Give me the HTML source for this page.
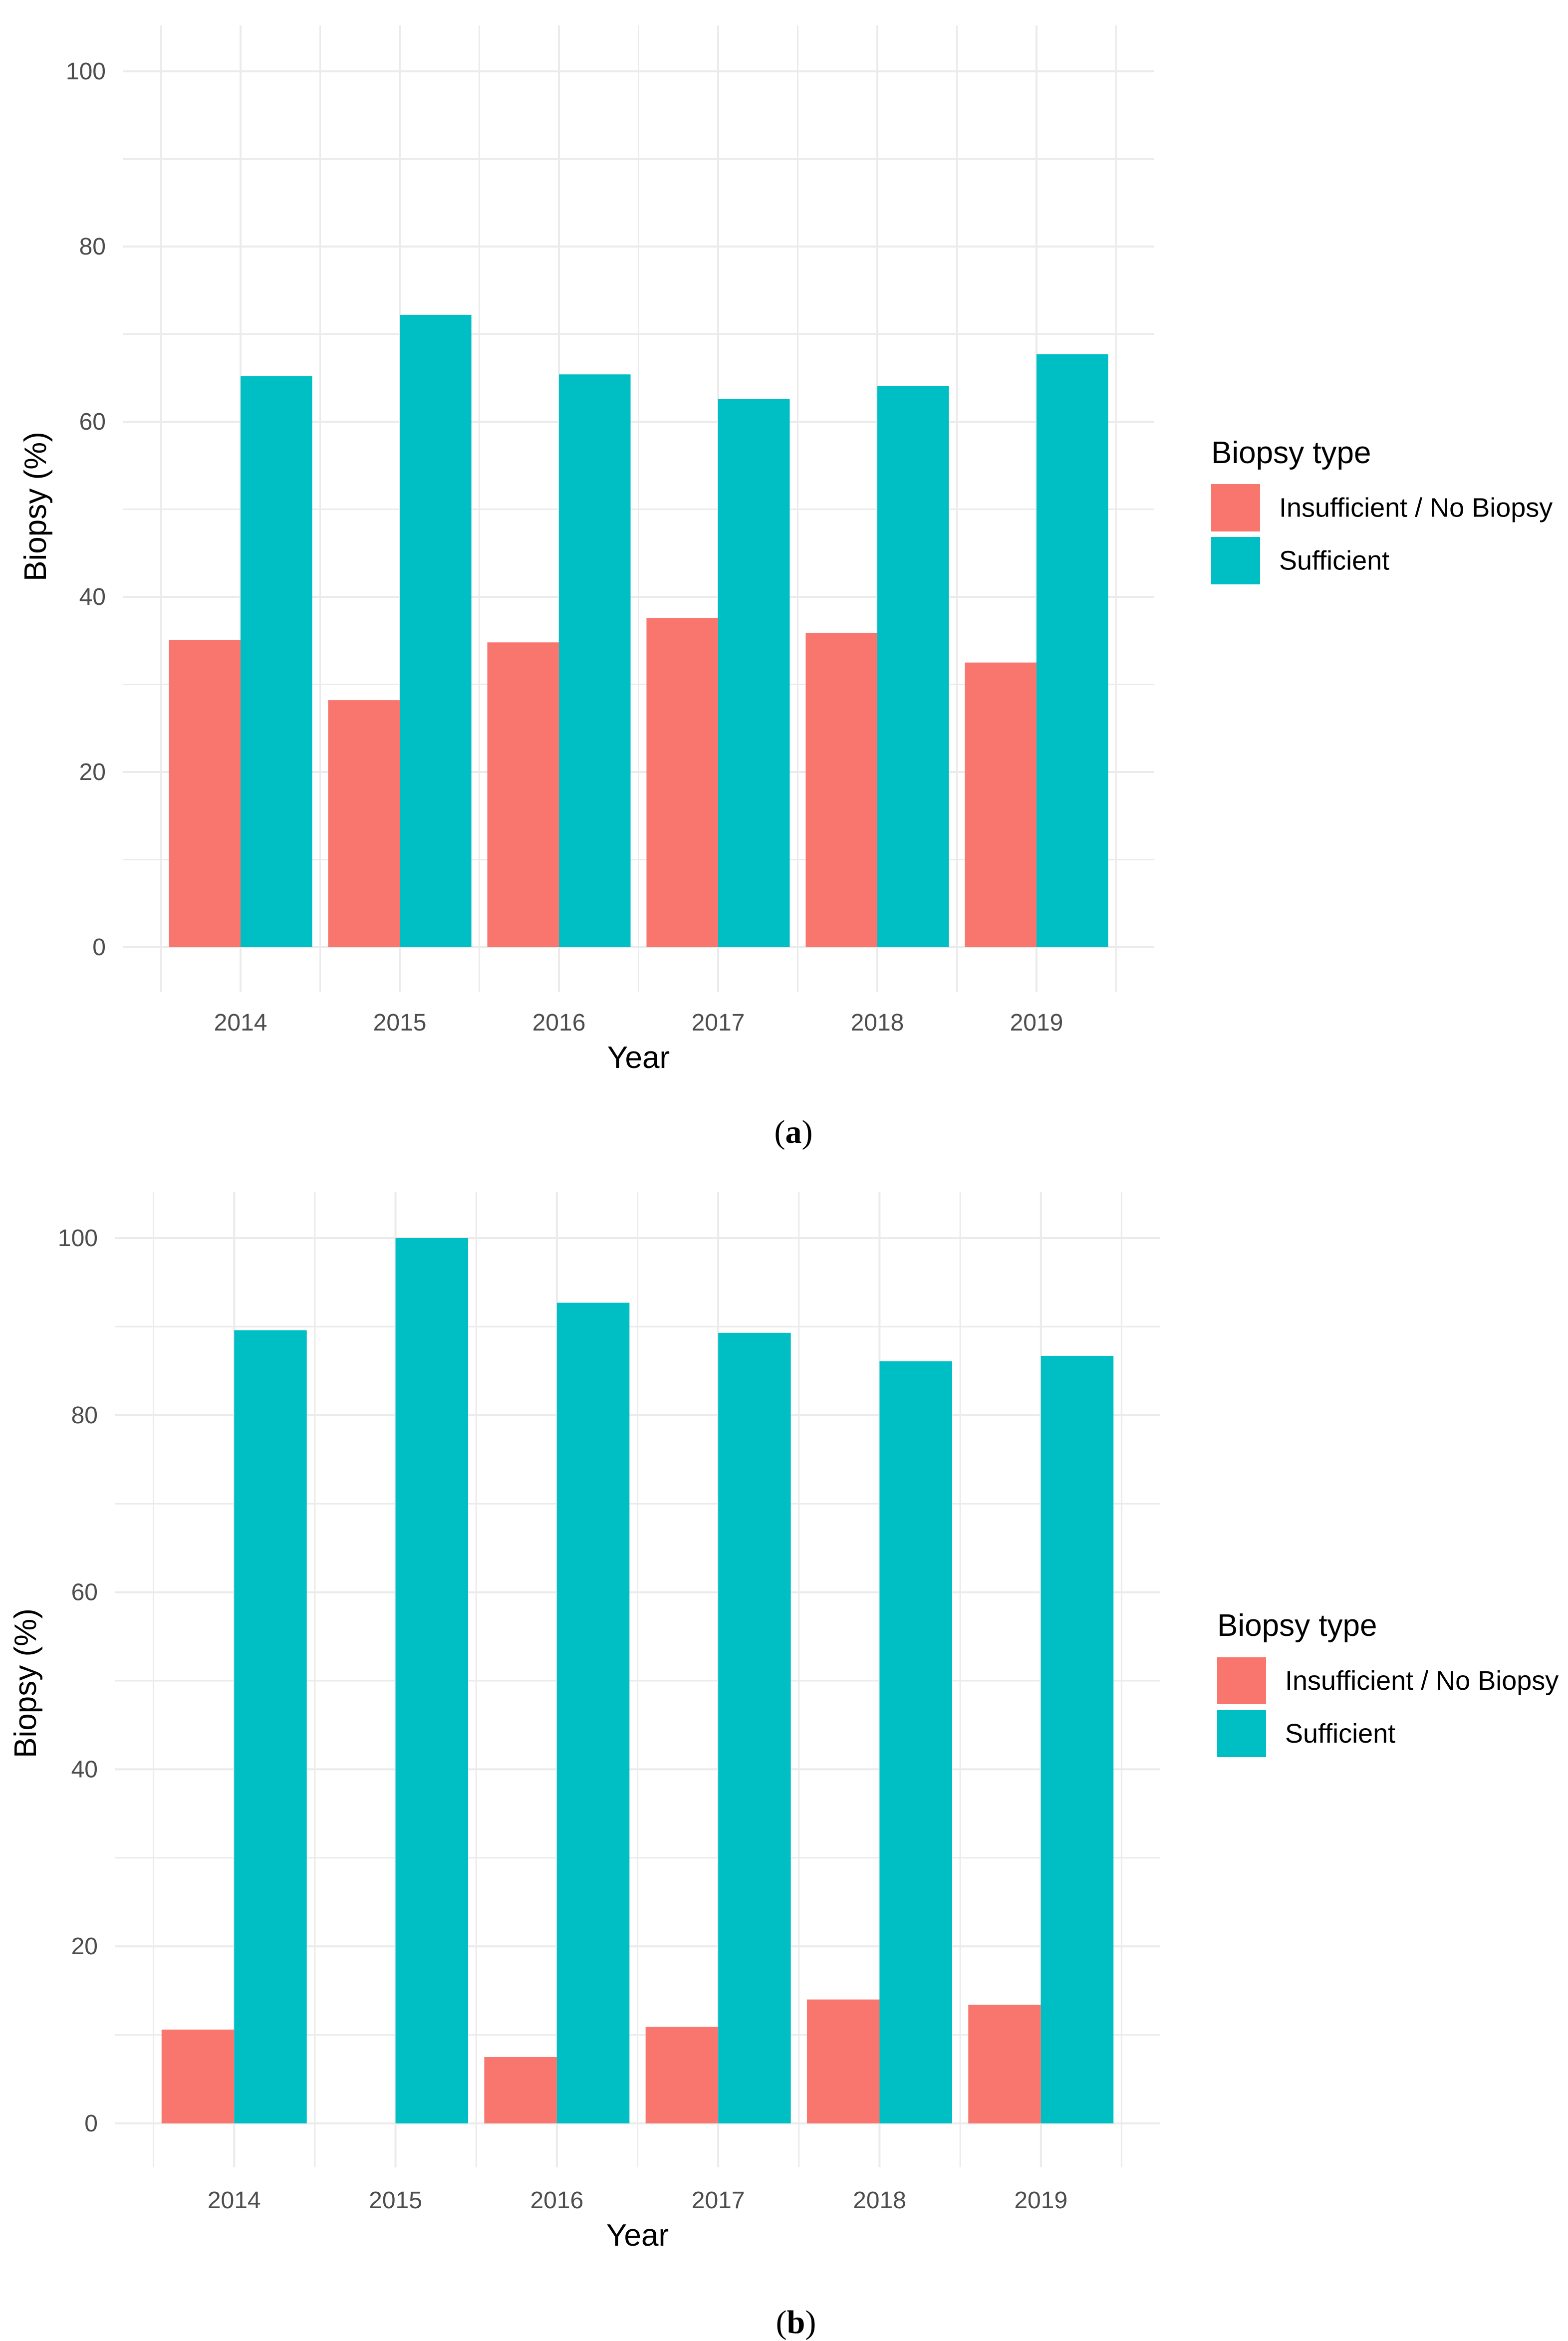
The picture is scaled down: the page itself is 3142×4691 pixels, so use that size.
<!DOCTYPE html>
<html><head><meta charset="utf-8">
<style>html,body{margin:0;padding:0;background:#fff}svg{display:block}</style></head>
<body>
<svg id="chart" width="3142" height="4691" viewBox="0 0 3142 4691" xmlns="http://www.w3.org/2000/svg" font-family="'Liberation Sans Narrow','Liberation Sans',sans-serif">
<rect width="3142" height="4691" fill="#fff"/>
<g id="pa"></g>
<g id="pb"></g>
<text x="1590" y="2290" font-family="'Liberation Serif',serif" font-size="66" text-anchor="middle">(<tspan font-weight="bold">a</tspan>)</text>
<text x="1595" y="4675" font-family="'Liberation Serif',serif" font-size="66" text-anchor="middle">(<tspan font-weight="bold">b</tspan>)</text>
</svg>
<script>
const categories = ["2014","2015","2016","2017","2018","2019"];
const insufficientA = [35.1, 28.2, 34.8, 37.6, 35.9, 32.5];
const sufficientA = [65.2, 72.2, 65.4, 62.6, 64.1, 67.7];
const insufficientB = [10.6, 0, 7.5, 10.9, 14.0, 13.4];
const sufficientB = [89.6, 100, 92.7, 89.3, 86.1, 86.7];
const yTicks = [0, 20, 40, 60, 80, 100];
const legendLabels = ["Insufficient / No Biopsy", "Sufficient"];
const NS = "http://www.w3.org/2000/svg";
const RED = "#f8766d", TEAL = "#00bfc4";
function mk(p, tag, at, txt){const e=document.createElementNS(NS,tag);for(const k in at)e.setAttribute(k,at[k]);if(txt!=null)e.textContent=txt;p.appendChild(e);return e;}
function panel(g, cfg, red, teal){
  const n = categories.length;
  const pad = 0.74;
  const step = (cfg.right - cfg.left) / (n - 1 + 2*pad);
  const xC = i => cfg.left + step * (pad + i);
  const y = v => cfg.y0 - (cfg.y0 - cfg.y100) * v / 100;
  for (let v = 10; v < 110; v += 20) {
    const l = mk(g,'line',{x1:cfg.left,x2:cfg.right,y1:y(v),y2:y(v),stroke:'#ebebeb','stroke-width':3});
    
    
  }
  for (let i = 0; i <= n; i++) {
    const x = xC(i) - step/2;
    const l = mk(g,'line',{x1:x,x2:x,y1:cfg.gTop,y2:cfg.gBot,stroke:'#ebebeb','stroke-width':3});
    
    
  }
  for (let i = 0; i < n; i++) {
    const l = mk(g,'line',{x1:xC(i),x2:xC(i),y1:cfg.gTop,y2:cfg.gBot,stroke:'#ebebeb','stroke-width':4});
    
    
  }
  yTicks.forEach(v => {
    const l = mk(g,'line',{x1:cfg.left,x2:cfg.right,y1:y(v),y2:y(v),stroke:'#ebebeb','stroke-width':4});
    
    
    const t = mk(g,'text',{x:cfg.left-34,y:y(v)+16,'font-size':48,fill:'#4d4d4d','text-anchor':'end'}, String(v));
    
    
  });
  const bw = step * 0.45;
  categories.forEach((c, i) => {
    if (red[i] > 0) {
      const r = mk(g,'rect',{x:xC(i)-bw,y:y(red[i]),width:bw,height:y(0)-y(red[i]),fill:RED});
      
      
    }
    const r2 = mk(g,'rect',{x:xC(i),y:y(teal[i]),width:bw,height:y(0)-y(teal[i]),fill:TEAL});
    
    
    const t = mk(g,'text',{x:xC(i),y:cfg.xLab,'font-size':48,fill:'#4d4d4d','text-anchor':'middle'}, c);
    
    
  });
  const xt = mk(g,'text',{x:(cfg.left+cfg.right)/2,y:cfg.yearY,'font-size':62,fill:'#000','text-anchor':'middle'},'Year');
  
  
  const yt = mk(g,'text',{x:0,y:0,'font-size':62,fill:'#000','text-anchor':'middle',transform:`translate(${cfg.ytX},${cfg.ytY}) rotate(-90)`},'Biopsy (%)');
  
  
  const lt = mk(g,'text',{x:cfg.lx,y:cfg.ltY,'font-size':62,fill:'#000'},'Biopsy type');
  
  
  [RED, TEAL].forEach((col, k) => {
    const ky = cfg.k0 + k * cfg.kStep;
    const r = mk(g,'rect',{x:cfg.lx,y:ky,width:98,height:cfg.kH,fill:col});
    
    
    const t = mk(g,'text',{x:cfg.lx+136,y:ky+cfg.kH/2+18,'font-size':54,fill:'#000'},legendLabels[k]);
    
    
  });
}
panel(document.getElementById('pa'), {left:246,right:2313,y0:1898,y100:143,gTop:51,gBot:1988,xLab:2065,yearY:2140,ytX:92,ytY:1015,lx:2427,ltY:928,k0:970,kStep:106,kH:95}, insufficientA, sufficientA);
panel(document.getElementById('pb'), {left:230,right:2325,y0:4255,y100:2481,gTop:2389,gBot:4343,xLab:4425,yearY:4500,ytX:72,ytY:3373,lx:2439,ltY:3278,k0:3321,kStep:106,kH:94}, insufficientB, sufficientB);
</script>
</body></html>
